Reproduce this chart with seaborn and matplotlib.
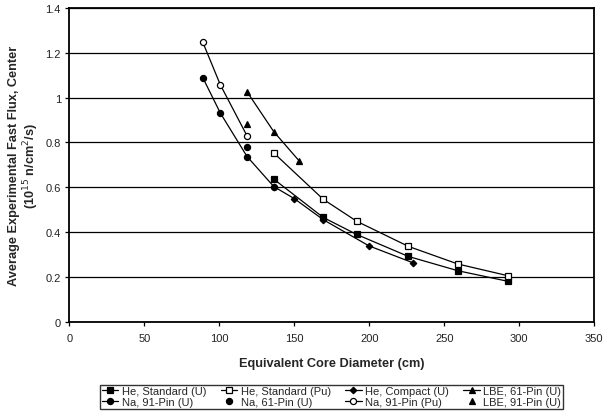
import matplotlib
matplotlib.use("Agg")
import matplotlib.pyplot as plt
import seaborn as sns
import numpy as np

sns.set_theme(style="white")
plt.rcParams['font.family'] = ['Liberation Sans', 'DejaVu Sans']

# Data
he_std_u_x = [136.3, 169.3, 191.6, 226.0, 259.1, 292.3]
he_std_u_y = [0.636, 0.465, 0.389, 0.291, 0.227, 0.180]
he_std_pu_x = [136.3, 169.3, 191.6, 226.0, 259.1, 292.3]
he_std_pu_y = [0.753, 0.546, 0.448, 0.336, 0.257, 0.205]
he_comp_u_x = [136.3, 150.0, 169.3, 199.8, 229.3]
he_comp_u_y = [0.603, 0.549, 0.455, 0.338, 0.262]
lbe61_u_x = [118.5, 136.3, 153.3]
lbe61_u_y = [1.026, 0.848, 0.717]
na91_u_x = [89.0, 100.7, 118.5, 136.3]
na91_u_y = [1.089, 0.931, 0.737, 0.603]
na61_u_x = [118.5]
na61_u_y = [0.779]
na91_pu_x = [89.0, 100.7, 118.5]
na91_pu_y = [1.247, 1.057, 0.829]
lbe91_u_x = [118.5]
lbe91_u_y = [0.881]

W, H = 603, 414
fig = plt.figure(figsize=(W / 100, H / 100), dpi=100)
ax = fig.add_axes([69.3 / W, 1 - 322.6 / H, (594.3 - 69.3) / W, (322.6 - 9.0) / H])

ms = 4.4
line_kw = dict(color='black', linewidth=0.9, markeredgecolor='black',
               markersize=ms, markeredgewidth=0.9, sort=False, estimator=None)

sns.lineplot(x=he_std_u_x, y=he_std_u_y, ax=ax, marker='s', markerfacecolor='black',
             label='He, Standard (U)', **line_kw)
sns.lineplot(x=he_std_pu_x, y=he_std_pu_y, ax=ax, marker='s', markerfacecolor='white',
             label='He, Standard (Pu)', **line_kw)
sns.lineplot(x=he_comp_u_x, y=he_comp_u_y, ax=ax, marker='D', markerfacecolor='black',
             label='He, Compact (U)', **{**line_kw, 'markersize': ms * 0.75})
sns.lineplot(x=lbe61_u_x, y=lbe61_u_y, ax=ax, marker='^', markerfacecolor='black',
             label='LBE, 61-Pin (U)', **{**line_kw, 'markersize': ms * 1.0})
sns.lineplot(x=na91_u_x, y=na91_u_y, ax=ax, marker='o', markerfacecolor='black',
             label='Na, 91-Pin (U)', **line_kw)
sns.lineplot(x=na61_u_x, y=na61_u_y, ax=ax, marker='o', markerfacecolor='black',
             label='Na, 61-Pin (U)', linestyle='', **line_kw)
sns.lineplot(x=na91_pu_x, y=na91_pu_y, ax=ax, marker='o', markerfacecolor='white',
             label='Na, 91-Pin (Pu)', **line_kw)
sns.lineplot(x=lbe91_u_x, y=lbe91_u_y, ax=ax, marker='^', markerfacecolor='black',
             label='LBE, 91-Pin (U)', linestyle='', **{**line_kw, 'markersize': ms * 1.0})

ax.set_xlim(0, 350)
ax.set_ylim(0, 1.4)
ax.set_xticks(np.arange(0, 351, 50))
ax.set_yticks(np.arange(0, 1.41, 0.2))
ax.set_yticklabels(['0', '0.2', '0.4', '0.6', '0.8', '1', '1.2', '1.4'])
ax.yaxis.grid(True, color='black', linewidth=0.9)
ax.xaxis.grid(False)
ax.set_axisbelow(True)
for s in ax.spines.values():
    s.set_visible(True)
    s.set_color('black')
    s.set_linewidth(1.3)
ax.tick_params(axis='both', which='major', direction='out', length=3, width=0.9,
               color='black', labelsize=8, labelcolor='#222222', bottom=True, left=True)
ax.tick_params(axis='x', pad=5)
ax.tick_params(axis='y', pad=3)

ax.set_xlabel('Equivalent Core Diameter (cm)', fontsize=9.2, fontweight='bold', labelpad=10)
ax.set_ylabel('Average Experimental Fast Flux, Center\n(10$^{15}$ n/cm$^{2}$/s)',
              fontsize=9.2, fontweight='bold', labelpad=3, linespacing=1.1)

handles, labels = ax.get_legend_handles_labels()
order = [0, 4, 1, 5, 2, 6, 3, 7]
leg = ax.legend([handles[i] for i in order], [labels[i] for i in order], ncol=4,
                loc='lower left', bbox_to_anchor=(100 / W, 1 - 410 / H, (563 - 100) / W, (410 - 378) / H),
                bbox_transform=fig.transFigure, mode='expand',
                fontsize=8, frameon=True, fancybox=False, edgecolor='black',
                handlelength=1.5, handletextpad=0.3, columnspacing=0.6,
                borderpad=0.15, labelspacing=0.1, borderaxespad=0)
leg.get_frame().set_linewidth(1.0)

fig.savefig('out.png', dpi=100)
